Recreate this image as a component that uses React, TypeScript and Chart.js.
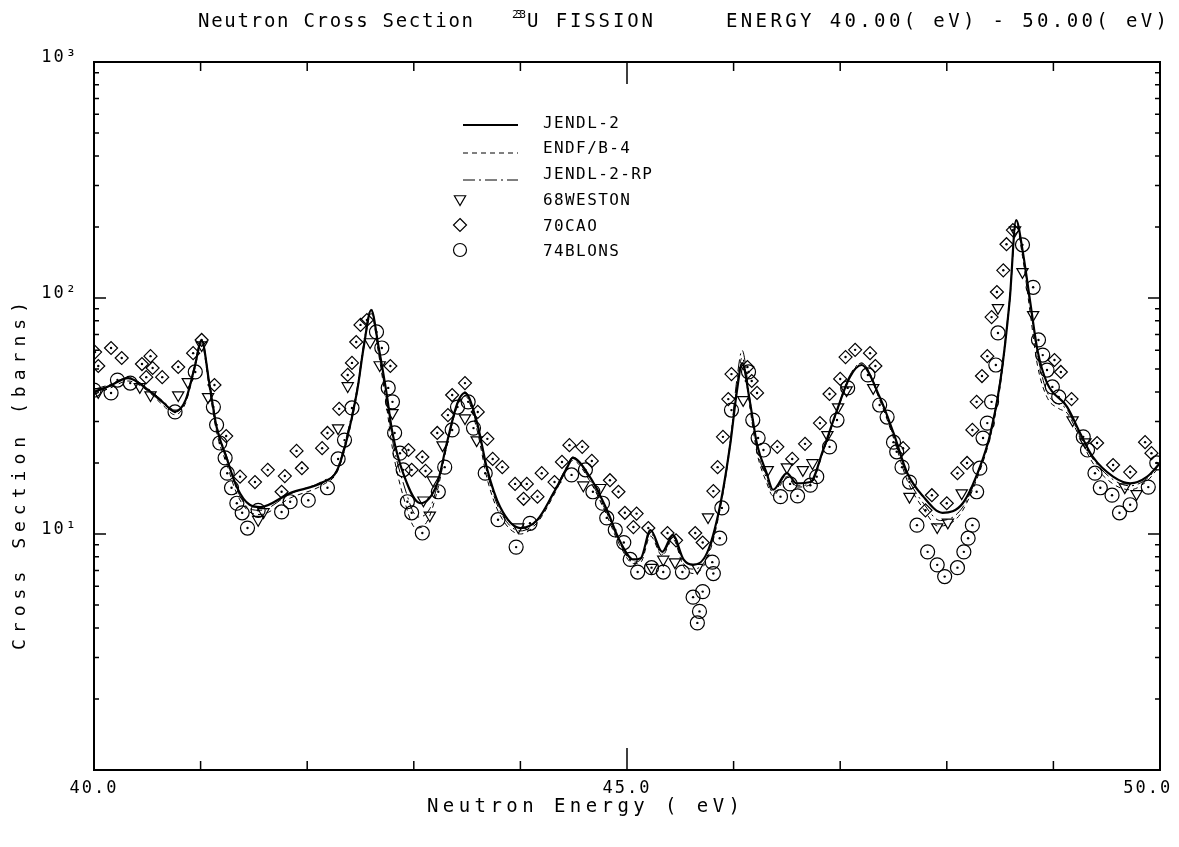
import React, { useEffect, useRef } from 'react';
import { Chart, registerables } from 'chart.js';

Chart.register(...registerables);

const FONT = '"DejaVu Sans Mono", "Liberation Mono", monospace';

// ---------------- evaluated curves (energy eV, cross section barns) ----------------
const JENDL2: [number, number][] = [
  [40.0, 40.0], [40.15, 42.5], [40.32, 45.8], [40.5, 41], [40.65, 36], [40.76, 33], [40.86, 37], [40.94, 50],
  [41.01, 66], [41.08, 44], [41.15, 28.4], [41.25, 20.6], [41.34, 15.8], [41.46, 13.3], [41.56, 13.0],
  [41.84, 14.9], [42.15, 16.6], [42.28, 18.6], [42.37, 25], [42.47, 40.7], [42.53, 62], [42.6, 88.9],
  [42.67, 62], [42.74, 40.7], [42.8, 26.8], [42.9, 18.1], [43.06, 13.5], [43.22, 16.4], [43.31, 24.3],
  [43.41, 35.9], [43.48, 39.6], [43.59, 30], [43.69, 18.7], [43.81, 13], [44.0, 10.6], [44.16, 11.5],
  [44.31, 14.9], [44.44, 19.2], [44.49, 21], [44.65, 17.5], [44.81, 12.7], [44.93, 9.4], [45.06, 7.8],
  [45.13, 7.9], [45.22, 10.4], [45.33, 8.4], [45.43, 9.9], [45.53, 7.8], [45.62, 7.4], [45.75, 8.3],
  [45.87, 13], [45.97, 24.3], [46.03, 40], [46.08, 53], [46.15, 37], [46.22, 24], [46.31, 18.1],
  [46.37, 15.4], [46.5, 18.1], [46.59, 16.4], [46.72, 16.6], [46.84, 22.7], [46.97, 33.5], [47.09, 46.2],
  [47.2, 52], [47.37, 38.1], [47.5, 26.8], [47.63, 18.1], [47.78, 14.4], [47.96, 12.3], [48.15, 13.5],
  [48.31, 19.2], [48.41, 26.8], [48.5, 43.7], [48.59, 98], [48.65, 214], [48.71, 160], [48.78, 98],
  [48.85, 60.3], [48.94, 43.7], [49.13, 34.5], [49.25, 26.8], [49.37, 21.2], [49.56, 17.5], [49.72, 16.4],
  [49.88, 17.5], [50.0, 20.0],
];

const ENDF_B4: [number, number][] = [
  [40.0, 39], [40.15, 41.5], [40.32, 44.5], [40.5, 40.5], [40.65, 35], [40.76, 32], [40.86, 36], [40.94, 49],
  [41.01, 64], [41.08, 42], [41.15, 27], [41.25, 19.5], [41.34, 14.8], [41.46, 12.4], [41.56, 12.1],
  [41.84, 14.2], [42.15, 16.2], [42.28, 18.3], [42.37, 24.5], [42.47, 40], [42.53, 61], [42.6, 86],
  [42.67, 58], [42.74, 36], [42.8, 23], [42.9, 14.5], [43.02, 10.6], [43.12, 11.2], [43.22, 15.2],
  [43.31, 23.5], [43.41, 35], [43.48, 38.5], [43.59, 28], [43.69, 17], [43.81, 12], [44.0, 10.0],
  [44.16, 11.2], [44.31, 14.5], [44.44, 19], [44.49, 20.5], [44.65, 16.8], [44.81, 12], [44.93, 9.0],
  [45.06, 7.5], [45.13, 7.6], [45.22, 9.8], [45.33, 8.1], [45.43, 9.5], [45.53, 7.3], [45.62, 6.8],
  [45.75, 7.8], [45.87, 12.5], [45.97, 24], [46.03, 42], [46.08, 56], [46.15, 35], [46.22, 22],
  [46.31, 16.5], [46.37, 14.5], [46.5, 17.5], [46.59, 15.8], [46.72, 16.2], [46.84, 22.2], [46.97, 33],
  [47.09, 46], [47.2, 53], [47.37, 37], [47.5, 25.5], [47.63, 16.8], [47.78, 12.8], [47.92, 10.8],
  [48.05, 11.2], [48.15, 12.6], [48.31, 18.5], [48.41, 26], [48.5, 42], [48.59, 96], [48.65, 205],
  [48.71, 150], [48.78, 88], [48.85, 52], [48.94, 38], [49.05, 34], [49.13, 32.5], [49.25, 25.5],
  [49.37, 20], [49.56, 16.3], [49.72, 15.4], [49.88, 16.8], [50.0, 19.5],
];

const JENDL2_RP: [number, number][] = [
  [40.0, 41], [40.15, 43], [40.32, 46], [40.5, 41.5], [40.65, 36.5], [40.76, 33.5], [40.86, 37], [40.94, 51],
  [41.01, 67], [41.08, 45], [41.15, 29], [41.25, 21], [41.34, 15.5], [41.46, 12.8], [41.56, 12.6],
  [41.84, 14.8], [42.15, 16.8], [42.28, 18.8], [42.37, 26], [42.47, 42], [42.53, 64], [42.6, 90],
  [42.67, 60], [42.74, 38], [42.8, 25], [42.9, 16.5], [43.04, 11.8], [43.15, 12.8], [43.22, 16],
  [43.31, 24], [43.41, 36], [43.48, 40], [43.59, 29], [43.69, 18], [43.81, 12.5], [44.0, 10.3],
  [44.16, 11.4], [44.31, 15], [44.44, 19.5], [44.49, 21.2], [44.65, 17], [44.81, 12.3], [44.93, 9.2],
  [45.06, 7.6], [45.13, 7.8], [45.22, 10.1], [45.33, 8.2], [45.43, 9.7], [45.53, 7.5], [45.62, 7.1],
  [45.75, 8.0], [45.87, 12.8], [45.97, 25], [46.03, 45], [46.08, 60], [46.15, 38], [46.22, 23],
  [46.31, 17.2], [46.37, 15], [46.5, 17.8], [46.59, 16], [46.72, 16.4], [46.84, 22.5], [46.97, 33.5],
  [47.09, 47], [47.2, 53], [47.37, 38], [47.5, 26], [47.63, 17.5], [47.78, 13.5], [47.94, 11.4],
  [48.15, 13], [48.31, 19], [48.41, 27], [48.5, 45], [48.59, 100], [48.65, 212], [48.71, 158],
  [48.78, 95], [48.85, 58], [48.94, 40], [49.13, 33.5], [49.25, 26], [49.37, 20.8], [49.56, 17],
  [49.72, 16], [49.88, 17.2], [50.0, 19.8],
];

// ---------------- measurements ----------------
const WESTON_68: [number, number][] = [
  [40.04, 40.0], [40.43, 42.0], [40.53, 38.8], [40.79, 38.8], [40.88, 44.1], [41.01, 63.2], [41.07, 38.1],
  [41.54, 11.5], [41.59, 12.4], [42.29, 28.1], [42.38, 42.4], [42.59, 65.1], [42.68, 52.0], [42.8, 32.6],
  [43.09, 13.9], [43.15, 12.0], [43.18, 16.9], [43.27, 23.8], [43.48, 31.0], [43.59, 25.0], [43.98, 10.7],
  [44.59, 16.1], [44.75, 15.7], [45.23, 7.2], [45.34, 7.8], [45.45, 7.6], [45.66, 7.2], [45.76, 11.8],
  [46.09, 37.0], [46.32, 18.7], [46.5, 19.2], [46.65, 18.7], [46.74, 20.0], [46.88, 26.3], [46.98, 34.5],
  [47.06, 40.7], [47.31, 41.6], [47.65, 14.4], [47.91, 10.7], [48.01, 11.2], [48.14, 14.9], [48.48, 90.8],
  [48.64, 194], [48.71, 129], [48.81, 84.8], [49.18, 30.4], [49.3, 24.5], [49.67, 15.8], [49.78, 14.8],
];

const CAO_70: [number, number][] = [
  [40.01, 59.0], [40.04, 51.5], [40.16, 61.4], [40.26, 55.7], [40.45, 52.5], [40.53, 56.7], [40.55, 50.5],
  [40.49, 46.2], [40.64, 46.2], [40.79, 51.0], [40.93, 58.4], [41.01, 66.4], [41.13, 42.8], [41.24, 26.0],
  [41.37, 17.5], [41.51, 16.6], [41.63, 18.7], [41.76, 15.1], [41.79, 17.6], [41.9, 22.5], [41.95, 19.0],
  [42.14, 23.1], [42.19, 26.8], [42.3, 33.9], [42.38, 47.2], [42.42, 53.1], [42.46, 65.1], [42.5, 76.9],
  [42.56, 80.7], [42.78, 51.5], [42.95, 22.7], [42.98, 18.7], [43.08, 21.2], [43.11, 18.5], [43.22, 26.8],
  [43.32, 31.9], [43.36, 38.8], [43.48, 43.6], [43.6, 32.9], [43.69, 25.3], [43.74, 20.8], [43.83, 19.2],
  [43.95, 16.3], [44.03, 14.1], [44.06, 16.3], [44.16, 14.4], [44.2, 18.1], [44.32, 16.6], [44.39, 20.2],
  [44.46, 23.8], [44.58, 23.4], [44.67, 20.4], [44.84, 16.9], [44.92, 15.1], [44.98, 12.3], [45.09, 12.2],
  [45.06, 10.7], [45.2, 10.6], [45.38, 10.1], [45.46, 9.4], [45.64, 10.1], [45.71, 9.2], [45.81, 15.2],
  [45.85, 19.2], [45.9, 25.8], [45.95, 37.3], [45.98, 47.6], [46.13, 51.0], [46.17, 44.5], [46.22, 39.6],
  [46.41, 23.4], [46.55, 20.8], [46.67, 24.1], [46.81, 29.5], [46.9, 39.2], [47.0, 45.4], [47.05, 56.2],
  [47.14, 60.3], [47.28, 58.4], [47.33, 51.5], [47.59, 23.1], [47.8, 12.6], [47.86, 14.6], [48.0, 13.5],
  [48.1, 18.1], [48.19, 20.0], [48.24, 27.6], [48.28, 36.3], [48.33, 46.7], [48.38, 56.7], [48.42, 83.0],
  [48.47, 106], [48.53, 131], [48.56, 169], [48.62, 194], [49.01, 54.6], [49.07, 48.6], [49.17, 37.3],
  [49.41, 24.3], [49.56, 19.6], [49.72, 18.3], [49.86, 24.5], [49.92, 22.0],
];

const BLONS_74: [number, number][] = [
  [40.0, 40.7], [40.16, 39.6], [40.22, 44.9], [40.34, 43.6], [40.76, 32.9], [40.95, 48.6], [41.12, 34.5],
  [41.15, 29.0], [41.18, 24.3], [41.23, 21.0], [41.25, 18.1], [41.29, 15.7], [41.34, 13.5], [41.39, 12.3],
  [41.44, 10.6], [41.54, 12.6], [41.76, 12.4], [41.84, 13.7], [42.01, 13.9], [42.19, 15.7], [42.29, 20.8],
  [42.35, 25.0], [42.42, 34.2], [42.65, 71.8], [42.7, 61.4], [42.76, 41.6], [42.8, 36.3], [42.82, 26.8],
  [42.87, 22.0], [42.9, 18.7], [42.94, 13.7], [42.98, 12.3], [43.08, 10.1], [43.23, 15.1], [43.29, 19.2],
  [43.36, 27.6], [43.41, 34.5], [43.51, 36.3], [43.56, 28.1], [43.67, 18.1], [43.79, 11.5], [43.96, 8.8],
  [44.09, 11.1], [44.48, 17.8], [44.61, 18.7], [44.68, 15.1], [44.77, 13.5], [44.81, 11.7], [44.89, 10.4],
  [44.97, 9.2], [45.03, 7.8], [45.1, 6.9], [45.23, 7.2], [45.34, 6.9], [45.52, 6.9], [45.62, 5.4],
  [45.71, 5.7], [45.68, 4.7], [45.66, 4.2], [45.81, 6.8], [45.8, 7.6], [45.87, 9.6], [45.89, 12.9],
  [45.98, 33.5], [46.14, 48.6], [46.18, 30.4], [46.23, 25.5], [46.28, 22.7], [46.44, 14.4], [46.53, 16.3],
  [46.6, 14.5], [46.72, 16.1], [46.78, 17.5], [46.9, 23.4], [46.97, 30.4], [47.07, 41.6], [47.26, 47.2],
  [47.37, 35.2], [47.44, 31.3], [47.5, 24.5], [47.53, 22.3], [47.58, 19.2], [47.65, 16.6], [47.72, 10.9],
  [47.82, 8.4], [47.91, 7.4], [47.98, 6.6], [48.1, 7.2], [48.16, 8.4], [48.2, 9.6], [48.24, 10.9],
  [48.28, 15.1], [48.31, 19.0], [48.34, 25.5], [48.38, 29.5], [48.42, 36.3], [48.46, 52.0], [48.48, 71.1],
  [48.71, 168], [48.81, 111], [48.86, 66.4], [48.9, 57.3], [48.94, 49.5], [48.99, 42.0], [49.05, 38.1],
  [49.28, 25.8], [49.32, 22.7], [49.39, 18.1], [49.44, 15.7], [49.55, 14.6], [49.62, 12.3], [49.72, 13.3],
  [49.89, 15.8], [49.97, 20.0],
];

// ---------------- axis ticks and labels ----------------
const X_TICK_VALUES = [40, 45, 50];
const X_TICK_TEXT = ['40.0', '45.0', '50.0'];
const Y_TICK_VALUES = [10, 100, 1000];
const Y_TICK_TEXT = ['10¹', '10²', '10³'];
const X_MINOR_TICKS = [41, 42, 43, 44, 46, 47, 48, 49];
const X_MAJOR_TICKS = [45];
const Y_MINOR_TICKS = [2, 3, 4, 5, 6, 7, 8, 9, 20, 30, 40, 50, 60, 70, 80, 90, 200, 300, 400, 500, 600, 700, 800, 900];
const Y_MAJOR_TICKS = [10, 100];

const LEGEND_LABELS = ['JENDL-2', 'ENDF/B-4', 'JENDL-2-RP', '68WESTON', '70CAO', '74BLONS'];

const toXY = (arr: [number, number][]) => arr.map(([x, y]) => ({ x, y }));

function spaced(ctx: any, text: string, x: number, y: number, width: number, size: number) {
  ctx.font = `${size}px ${FONT}`;
  ctx.letterSpacing = '0px';
  const w = ctx.measureText(text).width;
  const n = text.length - 1;
  const ls = n > 0 ? (width - w) / n : 0;
  ctx.letterSpacing = `${ls}px`;
  ctx.textAlign = 'left';
  ctx.textBaseline = 'alphabetic';
  ctx.fillText(text, x, y);
  ctx.letterSpacing = '0px';
}

function tri(ctx: any, x: number, y: number, r: number) {
  const s = r * Math.sin(Math.PI / 3);
  ctx.beginPath();
  ctx.moveTo(x, y + r);
  ctx.lineTo(x - s, y - r / 2);
  ctx.lineTo(x + s, y - r / 2);
  ctx.closePath();
  ctx.stroke();
}
function diamond(ctx: any, x: number, y: number, r: number) {
  ctx.beginPath();
  ctx.moveTo(x, y - r);
  ctx.lineTo(x + r, y);
  ctx.lineTo(x, y + r);
  ctx.lineTo(x - r, y);
  ctx.closePath();
  ctx.stroke();
}

const decorPlugin = {
  id: 'decor',
  beforeDraw(chart: any) {
    chart.ctx.letterSpacing = '2px';
  },
  afterDraw(chart: any) {
    const ctx = chart.ctx;
    const { left, right, top, bottom } = chart.chartArea;
    const xs = chart.scales.x;
    const ys = chart.scales.y;
    ctx.save();
    ctx.letterSpacing = '0px';
    ctx.strokeStyle = '#000';
    ctx.fillStyle = '#000';
    ctx.setLineDash([]);
    // frame
    ctx.lineWidth = 2;
    ctx.strokeRect(left, top, right - left, bottom - top);
    // ticks
    ctx.lineWidth = 1.5;
    ctx.beginPath();
    const xt = (v: number, len: number) => {
      const px = xs.getPixelForValue(v);
      ctx.moveTo(px, bottom); ctx.lineTo(px, bottom - len);
      ctx.moveTo(px, top); ctx.lineTo(px, top + len);
    };
    X_MINOR_TICKS.forEach((v) => xt(v, 9));
    X_MAJOR_TICKS.forEach((v) => xt(v, 22));
    const yt = (v: number, len: number) => {
      const py = ys.getPixelForValue(v);
      ctx.moveTo(left, py); ctx.lineTo(left + len, py);
      ctx.moveTo(right, py); ctx.lineTo(right - len, py);
    };
    Y_MINOR_TICKS.forEach((v) => yt(v, 5));
    Y_MAJOR_TICKS.forEach((v) => yt(v, 12));
    ctx.stroke();

    // title
    spaced(ctx, 'Neutron Cross Section', 198, 27, 275, 19);
    spaced(ctx, '233', 512, 18, 14, 11);
    spaced(ctx, 'U FISSION', 527, 27, 126, 19);
    spaced(ctx, 'ENERGY 40.00( eV) - 50.00( eV)', 726, 27, 441, 19);

    // axis titles
    spaced(ctx, 'Neutron Energy ( eV)', 427, 812, 313, 19);
    ctx.save();
    ctx.translate(25, 650);
    ctx.rotate(-Math.PI / 2);
    spaced(ctx, 'Cross Section (barns)', 0, 0, 348, 18);
    ctx.restore();

    // legend
    const lx0 = 463, lx1 = 518;
    const lineYs = [125, 153, 180];
    const dashes = [[], [5, 4], [12, 4, 2, 4]];
    const widths = [2.2, 1, 1];
    lineYs.forEach((y, i) => {
      ctx.beginPath();
      ctx.setLineDash(dashes[i]);
      ctx.lineWidth = widths[i];
      ctx.moveTo(lx0, y); ctx.lineTo(lx1, y);
      ctx.stroke();
    });
    ctx.setLineDash([]);
    ctx.lineWidth = 1.2;
    tri(ctx, 460, 199, 6.5);
    diamond(ctx, 460, 225, 6.5);
    ctx.beginPath(); ctx.arc(460, 250, 6.5, 0, Math.PI * 2); ctx.stroke();
    const textYs = [128, 153, 179, 205, 231, 256];
    ctx.font = `16px ${FONT}`;
    ctx.letterSpacing = '1.4px';
    ctx.textAlign = 'left';
    ctx.textBaseline = 'alphabetic';
    LEGEND_LABELS.forEach((t, i) => ctx.fillText(t, 543, textYs[i]));
    ctx.letterSpacing = '0px';
    ctx.restore();
  },
};

export default function App() {
  const ref = useRef<HTMLCanvasElement>(null);
  useEffect(() => {
    document.body.style.margin = '0';
    const lineBase = { pointRadius: 0, borderColor: '#000', fill: false, cubicInterpolationMode: 'monotone', showLine: true };
    const markBase = { showLine: false, borderColor: '#000', backgroundColor: 'rgba(0,0,0,0)', pointBorderColor: '#000', pointBackgroundColor: 'rgba(0,0,0,0)', pointBorderWidth: 1.2 };
    const dotBase = { showLine: false, pointRadius: 1.2, pointBorderWidth: 0, pointBackgroundColor: '#000', pointBorderColor: '#000', pointStyle: 'circle' };
    const chart = new Chart(ref.current as HTMLCanvasElement, {
      type: 'line',
      data: {
        datasets: [
          { ...lineBase, label: 'JENDL-2', data: toXY(JENDL2), borderWidth: 2.2 },
          { ...lineBase, label: 'ENDF/B-4', data: toXY(ENDF_B4), borderWidth: 1, borderDash: [5, 4] },
          { ...lineBase, label: 'JENDL-2-RP', data: toXY(JENDL2_RP), borderWidth: 1, borderDash: [12, 4, 2, 4] },
          { ...markBase, label: '68WESTON', data: toXY(WESTON_68), pointStyle: 'triangle', pointRotation: 180, pointRadius: 6.5 },
          { ...markBase, label: '70CAO', data: toXY(CAO_70), pointStyle: 'rectRot', pointRadius: 6.5 },
          { ...markBase, label: '74BLONS', data: toXY(BLONS_74), pointStyle: 'circle', pointRadius: 7 },
          { ...dotBase, label: 'c1', data: toXY(CAO_70) },
          { ...dotBase, label: 'c2', data: toXY(BLONS_74) },
        ] as any,
      },
      options: {
        responsive: false,
        animation: false,
        devicePixelRatio: 1,
        events: [],
        layout: { padding: { left: 0, right: 19, top: 62, bottom: 0 } },
        plugins: { legend: { display: false }, tooltip: { enabled: false }, title: { display: false } },
        scales: {
          x: {
            type: 'linear',
            min: 40,
            max: 50,
            grid: { display: false, drawTicks: false },
            border: { display: false },
            afterFit: (s: any) => { s.height = 77; s.paddingLeft = 0; s.paddingRight = 0; },
            ticks: {
              stepSize: 1,
              autoSkip: false,
              maxRotation: 0,
              padding: 8,
              color: '#000',
              font: { family: FONT, size: 17 },
              callback: (v: any) => {
                const i = X_TICK_VALUES.indexOf(Number(v));
                if (i < 0) return '';
                return i === X_TICK_VALUES.length - 1 ? X_TICK_TEXT[i] + '  ' : X_TICK_TEXT[i];
              },
            },
          },
          y: {
            type: 'logarithmic',
            min: 1,
            max: 1000,
            grid: { display: false, drawTicks: false },
            border: { display: false },
            afterFit: (s: any) => { s.width = 94; s.paddingTop = 0; s.paddingBottom = 0; },
            ticks: {
              autoSkip: false,
              padding: 16,
              labelOffset: -4,
              color: '#000',
              font: { family: FONT, size: 17 },
              callback: (v: any) => {
                const i = Y_TICK_VALUES.indexOf(Number(v));
                return i < 0 ? '' : Y_TICK_TEXT[i];
              },
            },
          },
        },
      } as any,
      plugins: [decorPlugin],
    });
    return () => chart.destroy();
  }, []);
  return <canvas ref={ref} width={1179} height={847} style={{ display: 'block', width: 1179, height: 847 }} />;
}
